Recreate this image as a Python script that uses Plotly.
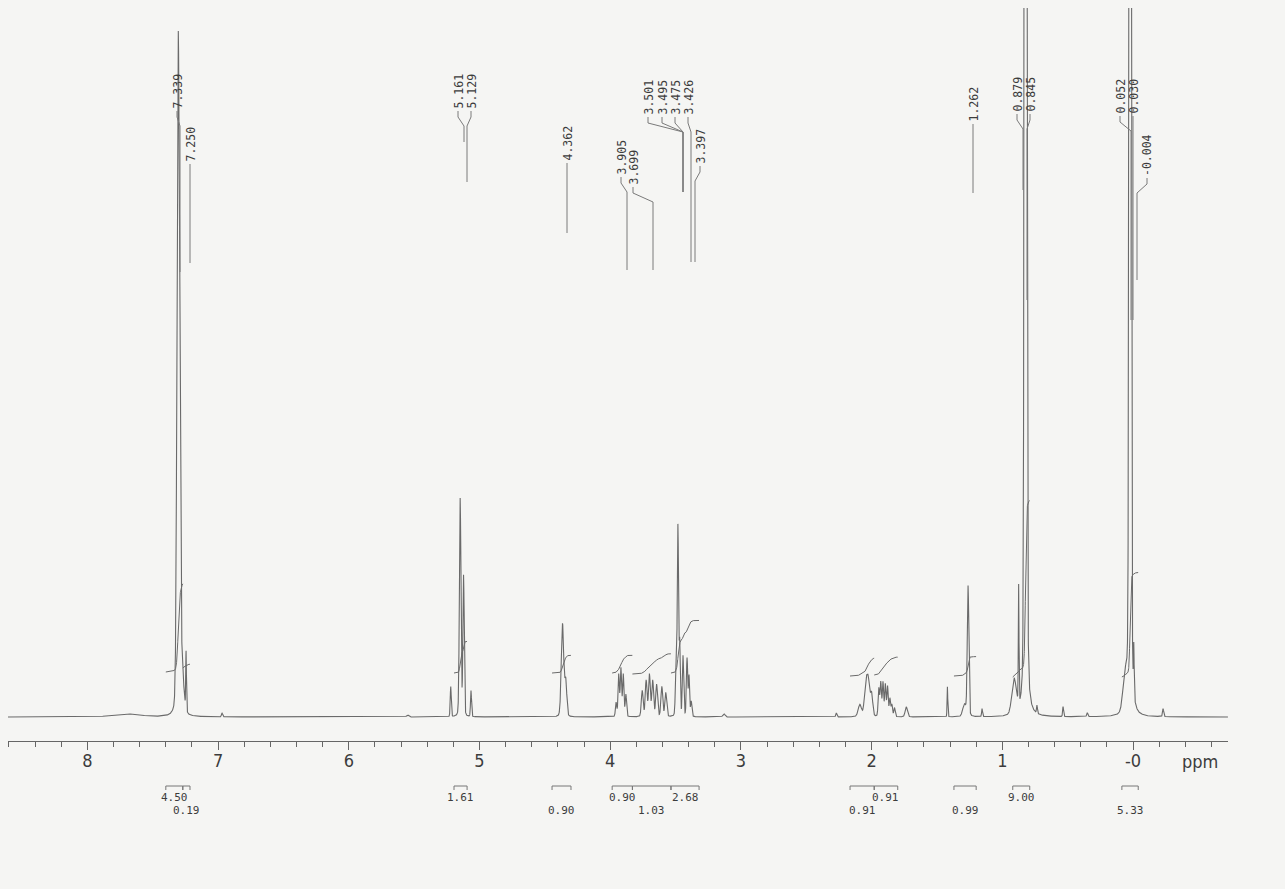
import numpy as np
import plotly.graph_objects as go

# ---------------- data ----------------
# peak list: chemical shift (ppm), height (arbitrary, ~px above baseline), width (FWHM, ppm)
PEAK_PPM = [7.70, 7.305, 7.285, 7.245, 6.97,
            5.55, 5.22, 5.148, 5.122, 5.065,
            4.365, 4.34,
            3.955, 3.935, 3.918, 3.900, 3.880,
            3.755, 3.725, 3.700, 3.675, 3.645, 3.605, 3.575,
            3.497, 3.482, 3.468, 3.443, 3.412, 3.397, 3.380, 3.13,
            2.27, 2.09, 2.045, 2.025, 2.000,
            1.945, 1.930, 1.913, 1.895, 1.878, 1.860, 1.845, 1.825,
            1.735, 1.42, 1.29, 1.262, 1.155,
            0.91, 0.875, 0.822, 0.735, 0.535, 0.35,
            0.06, 0.022, -0.006, -0.23]
PEAK_HEIGHT = [3, 656, 60, 58, 4,
               2, 30, 218, 140, 26,
               93, 35,
               14, 42, 48, 42, 22,
               26, 36, 42, 36, 32, 30, 24,
               40, 190, 70, 60, 58, 40, 15, 3,
               4, 12, 32, 34, 22,
               28, 34, 34, 32, 30, 18, 12, 9,
               10, 30, 12, 130, 8,
               35, 118, 3000, 8, 10, 4,
               35, 3000, 48, 8]
PEAK_FWHM = [0.25, 0.022, 0.04, 0.006, 0.01,
             0.02, 0.009, 0.014, 0.012, 0.009,
             0.022, 0.018,
             0.012, 0.012, 0.012, 0.012, 0.012,
             0.016, 0.016, 0.016, 0.016, 0.016, 0.016, 0.016,
             0.012, 0.012, 0.010, 0.012, 0.012, 0.010, 0.012, 0.02,
             0.01, 0.03, 0.025, 0.025, 0.02,
             0.012, 0.012, 0.012, 0.012, 0.012, 0.012, 0.012, 0.012,
             0.02, 0.006, 0.03, 0.014, 0.008,
             0.04, 0.006, 0.016, 0.008, 0.008, 0.01,
             0.04, 0.014, 0.006, 0.01]

# integrals
INTEGRAL_VALUE = [4.50, 0.19, 1.61, 0.90, 0.90, 1.03, 2.68, 0.91, 0.91, 0.99, 9.00, 5.33]
INTEGRAL_FROM = [7.40, 7.27, 5.195, 4.445, 3.985, 3.83, 3.535, 2.165, 1.98, 1.37, 0.92, 0.085]
INTEGRAL_TO = [7.27, 7.215, 5.095, 4.30, 3.83, 3.535, 3.32, 1.98, 1.80, 1.20, 0.79, -0.04]
INTEGRAL_LABEL = ["4.50", "0.19", "1.61", "0.90", "0.90", "1.03", "2.68", "0.91", "0.91", "0.99", "9.00", "5.33"]

# peak picking labels
PEAK_LABEL = ["7.339", "7.250", "5.161", "5.129", "4.362", "3.905", "3.699", "3.501", "3.495",
              "3.475", "3.426", "3.397", "1.262", "0.879", "0.845", "0.052", "0.030", "-0.004"]

# axis ticks
TICK_VALS = [8, 7, 6, 5, 4, 3, 2, 1, 0]
TICK_TEXT = ["8", "7", "6", "5", "4", "3", "2", "1", "-0"]

# ---------------- layout geometry (positions / styles) ----------------
W, H = 1285, 889
PLOT_L, PLOT_R, PLOT_T, PLOT_B = 8, 1228, 8, 741
BASE_PX = 717
X0_PX, PX_PER_PPM = 1133.0, 130.7
PPM_LEFT = (X0_PX - PLOT_L) / PX_PER_PPM
PPM_RIGHT = (X0_PX - PLOT_R) / PX_PER_PPM
Y_TOP = BASE_PX - PLOT_T
Y_BOT = BASE_PX - PLOT_B


def px2ppm(x):
    return (X0_PX - x) / PX_PER_PPM


def py2val(y):
    return BASE_PX - y


def ppm2paper(p):
    return (PPM_LEFT - p) / (PPM_LEFT - PPM_RIGHT)


def py2paper(y):
    return (PLOT_B - y) / (PLOT_B - PLOT_T)


LABEL_X_PX = [177, 190, 458, 471, 567, 621, 633, 648, 662, 675, 688, 700, 973, 1017, 1030, 1120, 1133, 1147]
LABEL_BOTTOM_PX = [110, 163, 110, 110, 162, 176, 186, 116, 116, 116, 116, 165, 123, 113, 113, 115, 115, 177]
LEADER_X_PX = [180, 190, 464, 467, 567, 627, 653, 683, 683, 683, 691, 695, 973, 1023, 1027, 1131, 1133, 1137]
LEADER_END_PX = [272, 263, 142, 182, 233, 270, 270, 192, 192, 192, 262, 262, 193, 190, 300, 320, 320, 280]

INT_BASE = [45, 49, 44, 44, 44, 43, 44, 41, 42, 41, 40, 40]
INT_SCALE = 19.6
INT_ROW = [0, 1, 0, 1, 0, 1, 0, 1, 0, 1, 0, 1]
INT_ROW_PX = [797, 811]

INK = "#6a6a6a"
TEXT = "#3c3c3c"
BG = "#f5f5f3"
SANS = "Liberation Sans Narrow, DejaVu Sans Condensed, Liberation Sans, sans-serif"
MONO = "DejaVu Sans Mono, Liberation Mono, monospace"

# ---------------- spectrum ----------------
ppm = np.arange(PPM_LEFT, PPM_RIGHT, -0.0005)
eta = 0.15
spec = np.zeros_like(ppm)
for p0, h, w in zip(PEAK_PPM, PEAK_HEIGHT, PEAK_FWHM):
    d2 = 4.0 * (ppm - p0) ** 2 / w ** 2
    spec += h * ((1 - eta) * np.exp(-np.log(2) * d2) + eta / (1 + d2))

fig = go.Figure()
fig.add_trace(go.Scatter(x=ppm, y=spec, mode="lines",
                         line=dict(color=INK, width=1.1), hoverinfo="skip", showlegend=False))

# integral curves
for val, a, b, base in zip(INTEGRAL_VALUE, INTEGRAL_FROM, INTEGRAL_TO, INT_BASE):
    m = (ppm <= a) & (ppm >= b)
    xs = ppm[m]
    cs = np.cumsum(spec[m])
    ys = base + cs / cs[-1] * val * INT_SCALE
    fig.add_trace(go.Scatter(x=xs, y=ys, mode="lines",
                             line=dict(color=INK, width=1), hoverinfo="skip", showlegend=False))

shapes = []
annotations = []

# peak labels with leader lines
for txt, lx, lb, tx, te in zip(PEAK_LABEL, LABEL_X_PX, LABEL_BOTTOM_PX, LEADER_X_PX, LEADER_END_PX):
    annotations.append(dict(x=px2ppm(lx), y=py2val(lb), xref="x", yref="y", text=txt,
                            textangle=-90, showarrow=False, xanchor="center", yanchor="bottom",
                            font=dict(family=MONO, size=11.5, color=TEXT), borderpad=0))
    path = "M {:.5f},{:.2f} L {:.5f},{:.2f} L {:.5f},{:.2f} L {:.5f},{:.2f}".format(
        px2ppm(lx), py2val(lb + 1), px2ppm(lx), py2val(lb + 7),
        px2ppm(tx), py2val(lb + 16), px2ppm(tx), py2val(te))
    shapes.append(dict(type="path", path=path, xref="x", yref="y",
                       line=dict(color="#7a7a7a", width=1)))

# integral brackets and values under the axis
BR_Y = 786
for val_txt, a, b, row in zip(INTEGRAL_LABEL, INTEGRAL_FROM, INTEGRAL_TO, INT_ROW):
    xa, xb = ppm2paper(a), ppm2paper(b)
    shapes.append(dict(type="line", xref="paper", yref="paper", x0=xa, x1=xb,
                       y0=py2paper(BR_Y), y1=py2paper(BR_Y), line=dict(color="#777", width=1)))
    for xx in (xa, xb):
        shapes.append(dict(type="line", xref="paper", yref="paper", x0=xx, x1=xx,
                           y0=py2paper(BR_Y), y1=py2paper(BR_Y + 4), line=dict(color="#777", width=1)))
    annotations.append(dict(x=(xa + xb) / 2, y=py2paper(INT_ROW_PX[row]), xref="paper", yref="paper",
                            text=val_txt, showarrow=False, xanchor="center", yanchor="middle",
                            font=dict(family=MONO, size=11, color=TEXT)))

annotations.append(dict(x=ppm2paper(px2ppm(1200)), y=py2paper(761), xref="paper", yref="paper",
                        text="ppm", showarrow=False, xanchor="center", yanchor="middle",
                        font=dict(family=SANS, size=18, color=TEXT)))

fig.update_layout(
    width=W, height=H,
    margin=dict(l=PLOT_L, r=W - PLOT_R, t=PLOT_T, b=H - PLOT_B),
    paper_bgcolor=BG, plot_bgcolor=BG,
    showlegend=False,
    shapes=shapes, annotations=annotations,
    xaxis=dict(range=[PPM_LEFT, PPM_RIGHT], showgrid=False, zeroline=False,
               showline=True, linecolor="#666", linewidth=1,
               ticks="outside", ticklen=8, tickcolor="#666", tickwidth=1,
               tickmode="array", tickvals=TICK_VALS, ticktext=TICK_TEXT,
               ticklabelstandoff=-5,
               tickfont=dict(family=SANS, size=18, color=TEXT),
               minor=dict(dtick=0.2, tick0=0, ticks="outside", ticklen=5, tickcolor="#666", showgrid=False)),
    yaxis=dict(range=[Y_BOT, Y_TOP], visible=False, showgrid=False, zeroline=False),
)

fig.write_html("out.html")
